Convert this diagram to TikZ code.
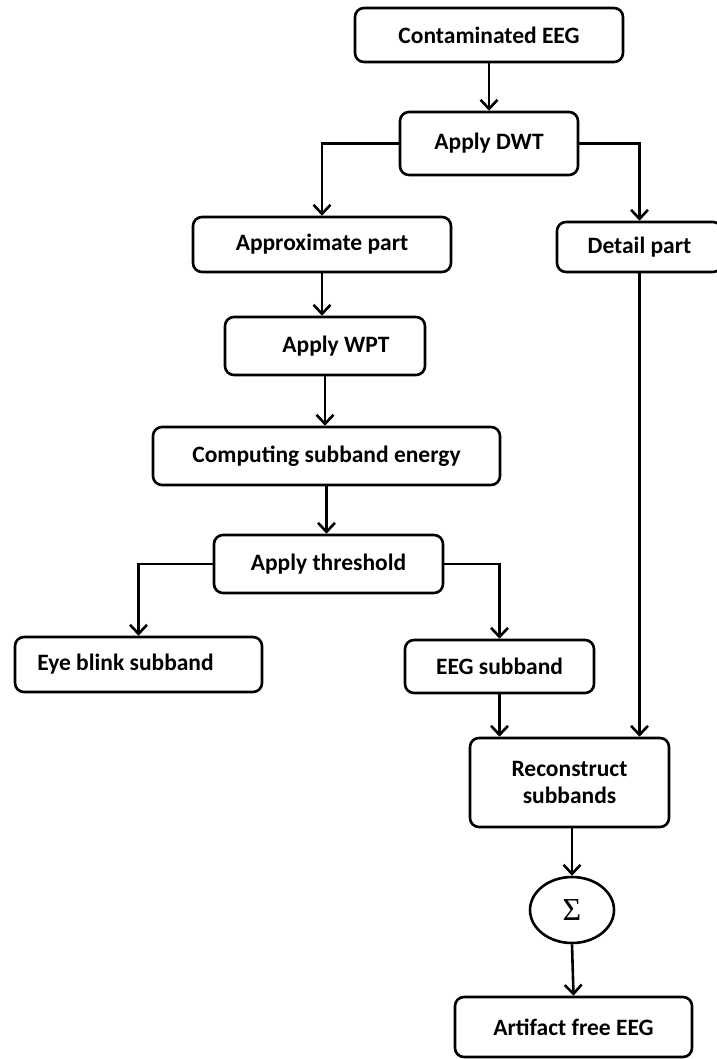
\documentclass[tikz,border=0pt]{standalone}
\usepackage{fontspec}
\setmainfont{Carlito}
\newfontfamily\sigmafont{Liberation Serif}
\usetikzlibrary{arrows.meta,shapes.geometric}
\begin{document}
\begin{tikzpicture}[x=1pt,y=1pt,
  box/.style={draw, line width=2.6pt, rounded corners=9pt, align=center, inner sep=0pt,
    font=\bfseries\fontsize{23.5}{27}\selectfont},
  arr/.style={line width=2.6pt, -{Straight Barb[length=9pt,width=17pt,line width=2.6pt]}}]
\useasboundingbox (0,0) rectangle (716,-1059);
\node[box, minimum width=268, minimum height=54] (c) at (489,-35) {Contaminated EEG};
\node[box, minimum width=178, minimum height=63] (dwt) at (489,-143.5) {Apply DWT};
\node[box, minimum width=258, minimum height=55] (approx) at (322,-244.5) {Approximate part};
\node[box, minimum width=165, minimum height=50] (detail) at (639.5,-247) {Detail part};
\node[box, minimum width=200, minimum height=58] (wpt) at (325,-346) {\hspace*{22pt}Apply WPT};
\node[box, minimum width=347, minimum height=58] (comp) at (326.5,-456) {Computing subband energy};
\node[box, minimum width=229, minimum height=58] (thr) at (328.5,-564) {Apply threshold};
\node[box, minimum width=247, minimum height=55] (eye) at (138.5,-664.5) {Eye blink subband\hspace*{26pt}};
\node[box, minimum width=189, minimum height=53] (eeg) at (499.5,-666.5) {EEG subband};
\node[box, minimum width=199, minimum height=89] (rec) at (569.5,-782.5) {Reconstruct\\subbands};
\node[draw, ellipse, line width=2.6pt, minimum width=84, minimum height=66, inner sep=0pt] (sig) at (572,-910) {\sigmafont\fontsize{32}{34}\selectfont Σ};
\node[box, minimum width=237, minimum height=60] (art) at (573.5,-1027) {Artifact free EEG};

\draw[arr] (c) -- (dwt);
\draw[arr] (dwt.west) -| (approx.north);
\draw[arr] (dwt.east) -| (detail.north);
\draw[arr] (approx.south) -- (approx.south |- wpt.north);
\draw[arr] (wpt.south) -- (wpt.south |- comp.north);
\draw[arr] (comp.south) -- (comp.south |- thr.north);
\draw[arr] (thr.west) -| (eye.north);
\draw[arr] (thr.east) -| (eeg.north);
\draw[arr] (eeg.south) -- (eeg.south |- rec.north);
\draw[arr] (detail.south) -- (detail.south |- rec.north);
\draw[arr] (sig.north |- rec.south) -- (sig.north);
\draw[arr] (sig.south) -- (art.north);
\end{tikzpicture}
\end{document}
